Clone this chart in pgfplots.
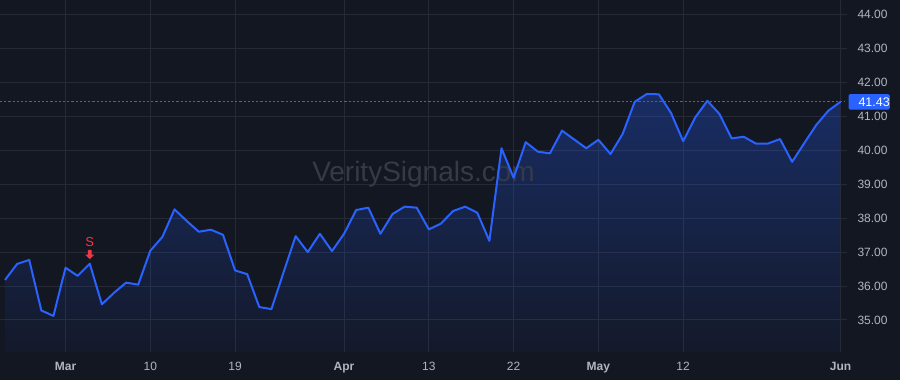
\documentclass[border=0pt]{standalone}
\usepackage{pgfplots}
\pgfplotsset{compat=1.18}
\usepackage{pgfplotstable}
\usepackage{fontspec}
\setmainfont{Liberation Sans}
\usetikzlibrary{fadings,backgrounds,calc}
\definecolor{bg}{HTML}{131722}
\definecolor{gridc}{HTML}{262A35}
\definecolor{tvblue}{HTML}{2962FF}
\definecolor{lbl}{HTML}{B2B5BE}
\definecolor{tvred}{HTML}{F23645}
\definecolor{wm}{HTML}{363A46}
\tikzfading[name=areafade, top color=transparent!70, bottom color=transparent!96]
\pgfplotstableread{
i y
0 36.18
1 36.65
2 36.77
3 35.28
4 35.12
5 36.54
6 36.30
7 36.66
8 35.46
9 35.80
10 36.10
11 36.04
12 37.04
13 37.45
14 38.26
15 37.92
16 37.60
17 37.66
18 37.51
19 36.46
20 36.35
21 35.38
22 35.32
23 36.40
24 37.47
25 37.00
26 37.54
27 37.03
28 37.54
29 38.24
30 38.31
31 37.54
32 38.12
33 38.34
34 38.31
35 37.67
36 37.84
37 38.21
38 38.34
39 38.16
40 37.33
41 40.06
42 39.19
43 40.24
44 39.96
45 39.91
46 40.58
47 40.32
48 40.06
49 40.31
50 39.89
51 40.48
52 41.43
53 41.66
54 41.65
55 41.10
56 40.27
57 40.97
58 41.46
59 41.07
60 40.35
61 40.40
62 40.20
63 40.20
64 40.33
65 39.66
66 40.21
67 40.75
68 41.17
69 41.43
}\pricedata
\begin{document}
\begin{tikzpicture}
\begin{axis}[
  name=main,
  width=847pt, height=352pt, scale only axis,
  xmin=-0.413, xmax=69.53,
  ymin=34.056, ymax=44.43,
  axis line style={draw=none},
  major tick length=0pt,
  grid=major,
  major grid style={color=gridc, line width=1pt},
  xtick={5,12,19,28,35,42,49,56,69},
  xticklabels={\textbf{Mar},10,19,\textbf{Apr},13,22,\textbf{May},12,\textbf{Jun}},
  ytick={35,36,37,38,39,40,41,42,43,44},
  yticklabel pos=right,
  /pgf/number format/assume math mode=true,
  yticklabel style={/pgf/number format/fixed, /pgf/number format/fixed zerofill, /pgf/number format/precision=2, anchor=west, xshift=7pt},
  ticklabel style={font=\fontsize{12}{14}\selectfont, text=lbl},
  xticklabel style={anchor=base, yshift=-19pt},
  clip=true,
]
\addplot[draw=none, fill=tvblue, path fading=areafade] table[x=i,y=y] {\pricedata} -- (axis cs:69,34.056) -- (axis cs:0,34.056) -- cycle;
\node[text=wm, font=\fontsize{28}{28}\selectfont, anchor=base] at (axis cs:34.56,39.075) {VeritySignals.com};
\addplot[tvblue, line width=1.4pt, dash pattern=on 2.2pt off 2pt] coordinates {(-0.413,41.43) (69.35,41.43)};
\addplot[tvblue, line width=2pt, line join=round] table[x=i,y=y] {\pricedata};
\node[text=tvred, font=\fontsize{13}{13}\selectfont] at (axis cs:7,36.66) [yshift=22pt] {S};
\fill[tvred] (axis cs:7,36.66) ++(0pt,4.4pt) -- ++(4.5pt,4.6pt) -- ++(-2.65pt,0pt) -- ++(0pt,4.7pt) -- ++(-3.7pt,0pt) -- ++(0pt,-4.7pt) -- ++(-2.65pt,0pt) -- cycle;
\coordinate (pl) at (axis cs:69.53,41.43);
\end{axis}
\node[fill=tvblue, text=white, rounded corners=1.5pt, anchor=west, inner xsep=0pt, inner ysep=0pt, minimum height=15.5pt, font=\fontsize{12.5}{14}\selectfont] at ([xshift=1.3pt]pl) {\hspace{10pt}41.43\hspace{4.5pt}};
\coordinate (bl) at ($(main.south west)+(0pt,-28pt)$);
\coordinate (tr) at ($(bl)+(900pt,380pt)$);
\begin{scope}[on background layer]
\fill[bg] (bl) rectangle (tr);
\end{scope}
\pgfresetboundingbox
\useasboundingbox (bl) rectangle (tr);
\end{tikzpicture}
\end{document}
